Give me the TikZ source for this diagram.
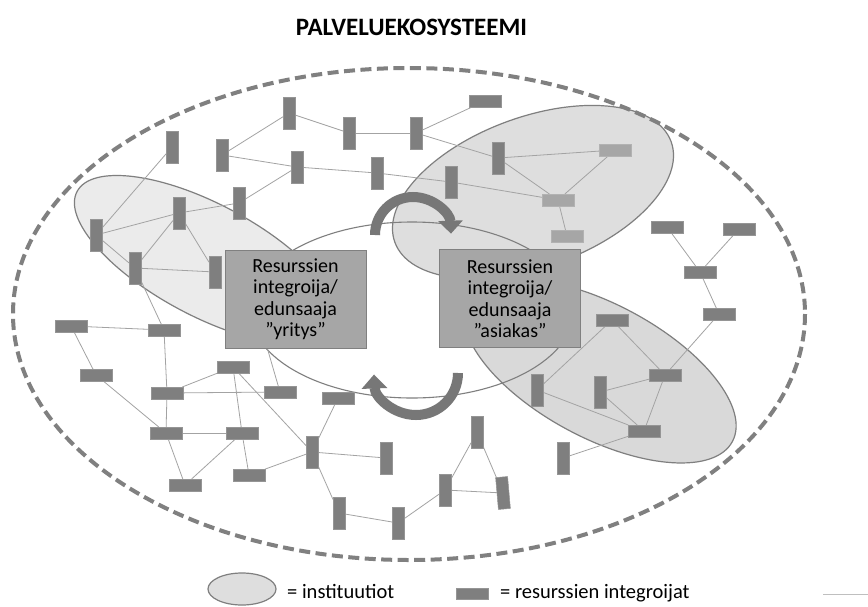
\documentclass[tikz,border=0pt]{standalone}
\usepackage{fontspec}
\setmainfont{Carlito}
\usetikzlibrary{arrows.meta}
\pgfdeclarelayer{bg}
\pgfdeclarelayer{mid}
\pgfdeclarelayer{fg}
\pgfsetlayers{bg,mid,main,fg}
\definecolor{barc}{HTML}{7F7F7F}
\definecolor{barline}{HTML}{959595}
\definecolor{lbarc}{HTML}{A6A6A6}
\definecolor{lbarline}{HTML}{B2B2B2}
\definecolor{linkc}{HTML}{A3A3A3}
\definecolor{instline}{HTML}{7F7F7F}
\definecolor{instA}{HTML}{EBEBEB}
\definecolor{instB}{HTML}{DEDEDE}
\definecolor{instC}{HTML}{D9D9D9}
\definecolor{boxfill}{HTML}{A6A6A6}
\definecolor{boxline}{HTML}{808080}
\definecolor{dashc}{HTML}{808080}
\definecolor{arrowc}{HTML}{777777}
\begin{document}
\begin{tikzpicture}[x=1pt,y=-1pt,
  vbar/.style={draw=barline, fill=barc, line width=0.5pt, minimum width=12pt, minimum height=32pt, inner sep=0pt, outer sep=0pt},
  hbar/.style={draw=barline, fill=barc, line width=0.5pt, minimum width=32pt, minimum height=12pt, inner sep=0pt, outer sep=0pt},
  lbar/.style={hbar, draw=lbarline, fill=lbarc},
  link/.style={draw=linkc, line width=0.8pt},
  inst/.style={draw=instline, line width=1.2pt},
  agent/.style={draw=boxline, fill=boxfill, line width=0.8pt, minimum width=141pt, minimum height=98pt, align=center, inner sep=0pt, font=\fontsize{20}{21.5}\selectfont},
  cyc/.style={draw=arrowc, line width=10pt},
  legtext/.style={anchor=base west, inner sep=0pt, font=\fontsize{20.5}{24}\selectfont}
]
\useasboundingbox (0,0) rectangle (868,606);

% institutions
\begin{pgfonlayer}{bg}
  \fill[white] (0,0) rectangle (868,606);
  \path[inst, fill=instA, rotate around={-28:(206,260)}] (206,260) ellipse [x radius=146, y radius=56];
  \path[inst, fill=instB, rotate around={20:(533,192)}] (533,192) ellipse [x radius=147, y radius=75];
  \path[inst, fill=instC, rotate around={-28:(600,371)}] (600,371) ellipse [x radius=150, y radius=67];
\end{pgfonlayer}

% title
\node[anchor=base, inner sep=0pt, font=\fontsize{25}{30}\selectfont\bfseries] (title) at (411.5,35) {PALVELUEKOSYSTEEMI};

% resource integrators (vertical)
\node[vbar] (V1) at (172,147) {};
\node[vbar] (V2) at (222,155) {};
\node[vbar] (V3) at (289,113) {};
\node[vbar] (V4) at (349,133) {};
\node[vbar] (V5) at (416,133) {};
\node[vbar] (V6) at (297,167) {};
\node[vbar] (V7) at (377,173) {};
\node[vbar] (V8) at (239,203) {};
\node[vbar] (V9) at (179,213) {};
\node[vbar] (V10) at (96,235) {};
\node[vbar] (V11) at (135,268) {};
\node[vbar] (V12) at (215,272) {};
\node[vbar] (V13) at (498,158) {};
\node[vbar] (V14) at (451,182) {};
\node[vbar] (V15) at (312,452) {};
\node[vbar] (V16) at (386,458) {};
\node[vbar] (V17) at (339,513) {};
\node[vbar] (V18) at (398,523) {};
\node[vbar] (V19) at (537,390) {};
\node[vbar] (V20) at (600,392) {};
\node[vbar] (V21) at (563,458) {};
\node[vbar] (V22) at (477,432) {};
\node[vbar] (V23) at (445,490) {};
\node[vbar, rotate=5] (V24) at (503,493) {};

% resource integrators (horizontal)
\node[hbar] (H1) at (485,101) {};
\node[lbar] (H2) at (615,150) {};
\node[lbar] (H3) at (558,200) {};
\node[lbar] (H4) at (567,236) {};
\node[hbar] (H5) at (667,227) {};
\node[hbar] (H6) at (739,229) {};
\node[hbar] (H7) at (700,272) {};
\node[hbar] (H8) at (719,314) {};
\node[hbar] (H9) at (71,326) {};
\node[hbar] (H10) at (164,330) {};
\node[hbar] (H11) at (96,375) {};
\node[hbar] (H12) at (233,367) {};
\node[hbar] (H13) at (167,393) {};
\node[hbar] (H14) at (280,392) {};
\node[hbar] (H15) at (338,398) {};
\node[hbar] (H16) at (166,433) {};
\node[hbar] (H17) at (242,433) {};
\node[hbar] (H18) at (185,485) {};
\node[hbar] (H19) at (249,475) {};
\node[hbar] (H20) at (612,320) {};
\node[hbar] (H21) at (665,375) {};
\node[hbar] (H22) at (644,431) {};

\coordinate (hid) at (262,330);

% ecosystem border, interaction ellipse and links
\begin{pgfonlayer}{mid}
  \draw[draw=dashc, line width=4pt, dash pattern=on 11pt off 5.5pt] (409,314) ellipse [x radius=396, y radius=246];
  \draw[draw=instline, line width=1.1pt] (412,310) ellipse [x radius=162, y radius=88];
  \draw[link] (V1) -- (V10);
  \draw[link] (V2) -- (V3);
  \draw[link] (V3) -- (V4);
  \draw[link] (V4) -- (V5);
  \draw[link] (V5) -- (H1);
  \draw[link] (V5) -- (V13);
  \draw[link] (V2) -- (V6);
  \draw[link] (V6) -- (V7);
  \draw[link] (V7) -- (V14);
  \draw[link] (V14) -- (H3);
  \draw[link] (V13) -- (H2);
  \draw[link] (V13) -- (H3);
  \draw[link] (H2) -- (H3);
  \draw[link] (H3) -- (H4);
  \draw[link] (V6) -- (V8);
  \draw[link] (V8) -- (V9);
  \draw[link] (V9) -- (V10);
  \draw[link] (V9) -- (V11);
  \draw[link] (V9) -- (V12);
  \draw[link] (V10) -- (V11);
  \draw[link] (V11) -- (V12);
  \draw[link] (V11) -- (H10);
  \draw[link] (H5) -- (H7);
  \draw[link] (H6) -- (H7);
  \draw[link] (H7) -- (H8);
  \draw[link] (H8) -- (H21);
  \draw[link] (H9) -- (H10);
  \draw[link] (H9) -- (H11);
  \draw[link] (H10) -- (H13);
  \draw[link] (H11) -- (H16);
  \draw[link] (H13) -- (H12);
  \draw[link] (H13) -- (H14);
  \draw[link] (H13) -- (H16);
  \draw[link] (H12) -- (H17);
  \draw[link] (H12) -- (V15);
  \draw[link] (H16) -- (H17);
  \draw[link] (H16) -- (H18);
  \draw[link] (H17) -- (H18);
  \draw[link] (H17) -- (H19);
  \draw[link] (H19) -- (V15);
  \draw[link] (H15) -- (V15);
  \draw[link] (V15) -- (V16);
  \draw[link] (V15) -- (V17);
  \draw[link] (V17) -- (V18);
  \draw[link] (V18) -- (V23);
  \draw[link] (H14) -- (hid);
  \draw[link] (H20) -- (V19);
  \draw[link] (H20) -- (H21);
  \draw[link] (H21) -- (V20);
  \draw[link] (H21) -- (H22);
  \draw[link] (V19) -- (H22);
  \draw[link] (V20) -- (H22);
  \draw[link] (H22) -- (V21);
  \draw[link] (V22) -- (V23);
  \draw[link] (V22) -- (V24);
  \draw[link] (V23) -- (V24);
\end{pgfonlayer}

% actors and the interaction arrows
\begin{pgfonlayer}{fg}
  \node[agent] (yritys) at (295.5,299) {Resurssien\\integroija/\\edunsaaja\\”yritys”};
  \node[agent] (asiakas) at (510,298.5) {Resurssien\\integroija/\\edunsaaja\\”asiakas”};
  \coordinate (topstart) at (375,235);
  \coordinate (botstart) at (458,373);
  \draw[cyc, -{Triangle[length=13pt, width=24pt]}] (topstart) arc[start angle=180, end angle=358, radius=38];
  \draw[cyc, -{Triangle[length=14pt, width=25pt]}] (botstart) arc[start angle=0, end angle=178, radius=42];
\end{pgfonlayer}

% legend
\path[inst, fill=instB] (242,589) ellipse [x radius=34, y radius=16];
\node[legtext] (leginst) at (287,598) {= instituutiot};
\node[hbar, minimum height=11pt] (legbar) at (472,594) {};
\node[legtext] (legbarText) at (500,598) {= resurssien integroijat};
\coordinate (tailA) at (823,594);
\coordinate (tailB) at (868,594);
\draw[draw=linkc!70, line width=1pt] (tailA) -- (tailB);
\end{tikzpicture}
\end{document}
